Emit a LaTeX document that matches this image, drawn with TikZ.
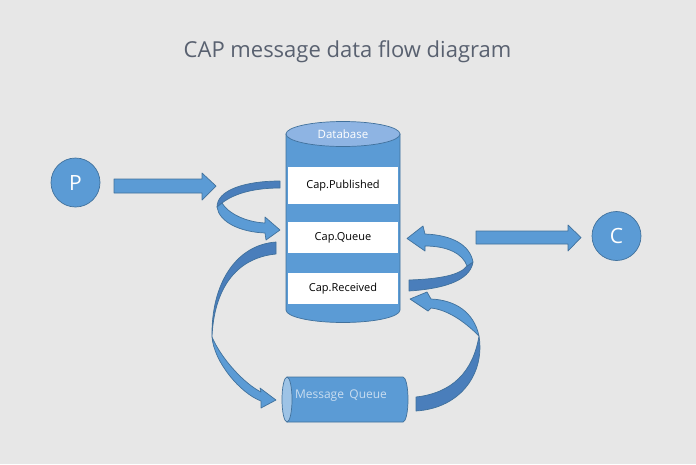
\documentclass[tikz,border=0pt]{standalone}
\usepackage{fontspec}
\setmainfont{Open Sans}
\definecolor{bg}{HTML}{E7E7E7}
\definecolor{mblue}{HTML}{5B9BD5}
\definecolor{oblue}{HTML}{41719C}
\definecolor{dblue}{HTML}{4A7EBB}
\definecolor{topblue}{HTML}{8EB4E3}
\definecolor{capblue}{HTML}{9DC3E6}
\definecolor{mqtext}{HTML}{C9DDF0}
\definecolor{ttl}{HTML}{596170}
\begin{document}
\begin{tikzpicture}[x=1pt,y=-1pt,
  shp/.style={fill=mblue,draw=oblue,line width=0.7pt,line join=round},
  dshp/.style={fill=dblue,draw=oblue,line width=0.7pt,line join=round},
  lbl/.style={font=\fontsize{11}{13}\selectfont,text=black,inner sep=0pt},
  endpt/.style={circle,minimum size=49pt,inner sep=0pt,fill=mblue,draw=oblue,line width=0.7pt,text=white,font=\fontsize{21}{24}\selectfont}]
\useasboundingbox[fill=bg] (0,0) rectangle (696,464);

% title
\node[font=\fontsize{22}{26}\selectfont,text=ttl,anchor=base,inner sep=0pt] (title) at (347.5,57) {CAP message data flow diagram};

% P and C
\node[endpt] (P) at (75.5,182.5) {P};
\node[endpt] (C) at (616.5,236) {C};

% straight block arrows
\draw[shp] (114,179) -- (202,179) -- (202,173) -- (216,186) -- (202,200) -- (202,193) -- (114,193) -- cycle;
\draw[shp] (476,231) -- (568,231) -- (568,225) -- (581,237.5) -- (568,251) -- (568,244) -- (476,244) -- cycle;

% database cylinder
\path[shp] (286,134) -- (286,310) .. controls (286,316.9) and (311.5,322.5) .. (343,322.5) .. controls (374.5,322.5) and (400,316.9) .. (400,310) -- (400,134) -- cycle;
\fill[white] (287.6,167) rectangle (398.4,204);
\fill[white] (287.6,222) rectangle (398.4,253);
\fill[white] (287.6,273) rectangle (398.4,304);
\draw[fill=topblue,draw=oblue,line width=0.7pt] (343,134) ellipse [x radius=57,y radius=12.5];
\node[font=\fontsize{11.5}{13}\selectfont,text=white,inner sep=0pt] (db) at (343,134) {Database};
\node[lbl] (pub) at (343,186) {Cap.Published};
\node[lbl] (que) at (343,238) {Cap.Queue};
\node[lbl] (rec) at (343,289) {Cap.Received};

% message queue cylinder
\draw[shp] (287,377) -- (403,377) .. controls (405.8,377) and (408,387.1) .. (408,399.5) .. controls (408,411.9) and (405.8,422) .. (403,422) -- (287,422) -- cycle;
\draw[fill=capblue,draw=oblue,line width=0.7pt] (287,399.5) ellipse [x radius=5,y radius=22.5];
\node[font=\fontsize{12}{14}\selectfont,text=mqtext,inner sep=0pt] (mq) at (341,396) {Message\hspace{0.45em}Queue};

% curved arrow A: Cap.Published -> Cap.Queue (left loop)
\draw[dshp] (280,181) .. controls (245,181) and (217,190) .. (217,207) -- (222,203) .. controls (235,193) and (255,188) .. (280,188) -- cycle;
\draw[shp] (217,207) -- (222,203) .. controls (228,213) and (245,222) .. (265,223) -- (265,217) -- (280,230) -- (266,240) -- (265,233) .. controls (240,232) and (219,222) .. (217,207) -- cycle;

% curved arrow B: Cap.Received -> Cap.Queue (right loop)
\draw[dshp] (473,262) .. controls (470,282) and (440,289) .. (409,291) -- (409,280) .. controls (440,279) and (460,275) .. (467,266) -- cycle;
\draw[shp] (473,262) .. controls (470,245) and (452,235) .. (425,234) -- (423,226) -- (407,238.5) -- (425,251) -- (425,246) .. controls (448,246) and (463,254) .. (467,266) -- cycle;

% curved arrow C: Cap.Queue -> Message Queue
\draw[dshp] (276,242) .. controls (235,245) and (211,285) .. (212,337) .. controls (214,290) and (235,258) .. (276,254) -- cycle;
\draw[shp] (212,337) .. controls (214,362) and (240,393) .. (261,401) -- (261,408) -- (276,400) -- (260,388) -- (261,392) .. controls (245,384) and (222,360) .. (212,337) -- cycle;

% curved arrow D: Message Queue -> Cap.Received
\draw[dshp] (416,397) .. controls (452,393) and (473,372) .. (479,336) .. controls (485,372) and (462,408) .. (416,411) -- cycle;
\draw[shp] (479,336) .. controls (474,312) and (455,300) .. (431,299) -- (427,292) -- (410,299) -- (428,311) -- (431,308) .. controls (450,310) and (468,325) .. (479,336) -- cycle;
\end{tikzpicture}
\end{document}
